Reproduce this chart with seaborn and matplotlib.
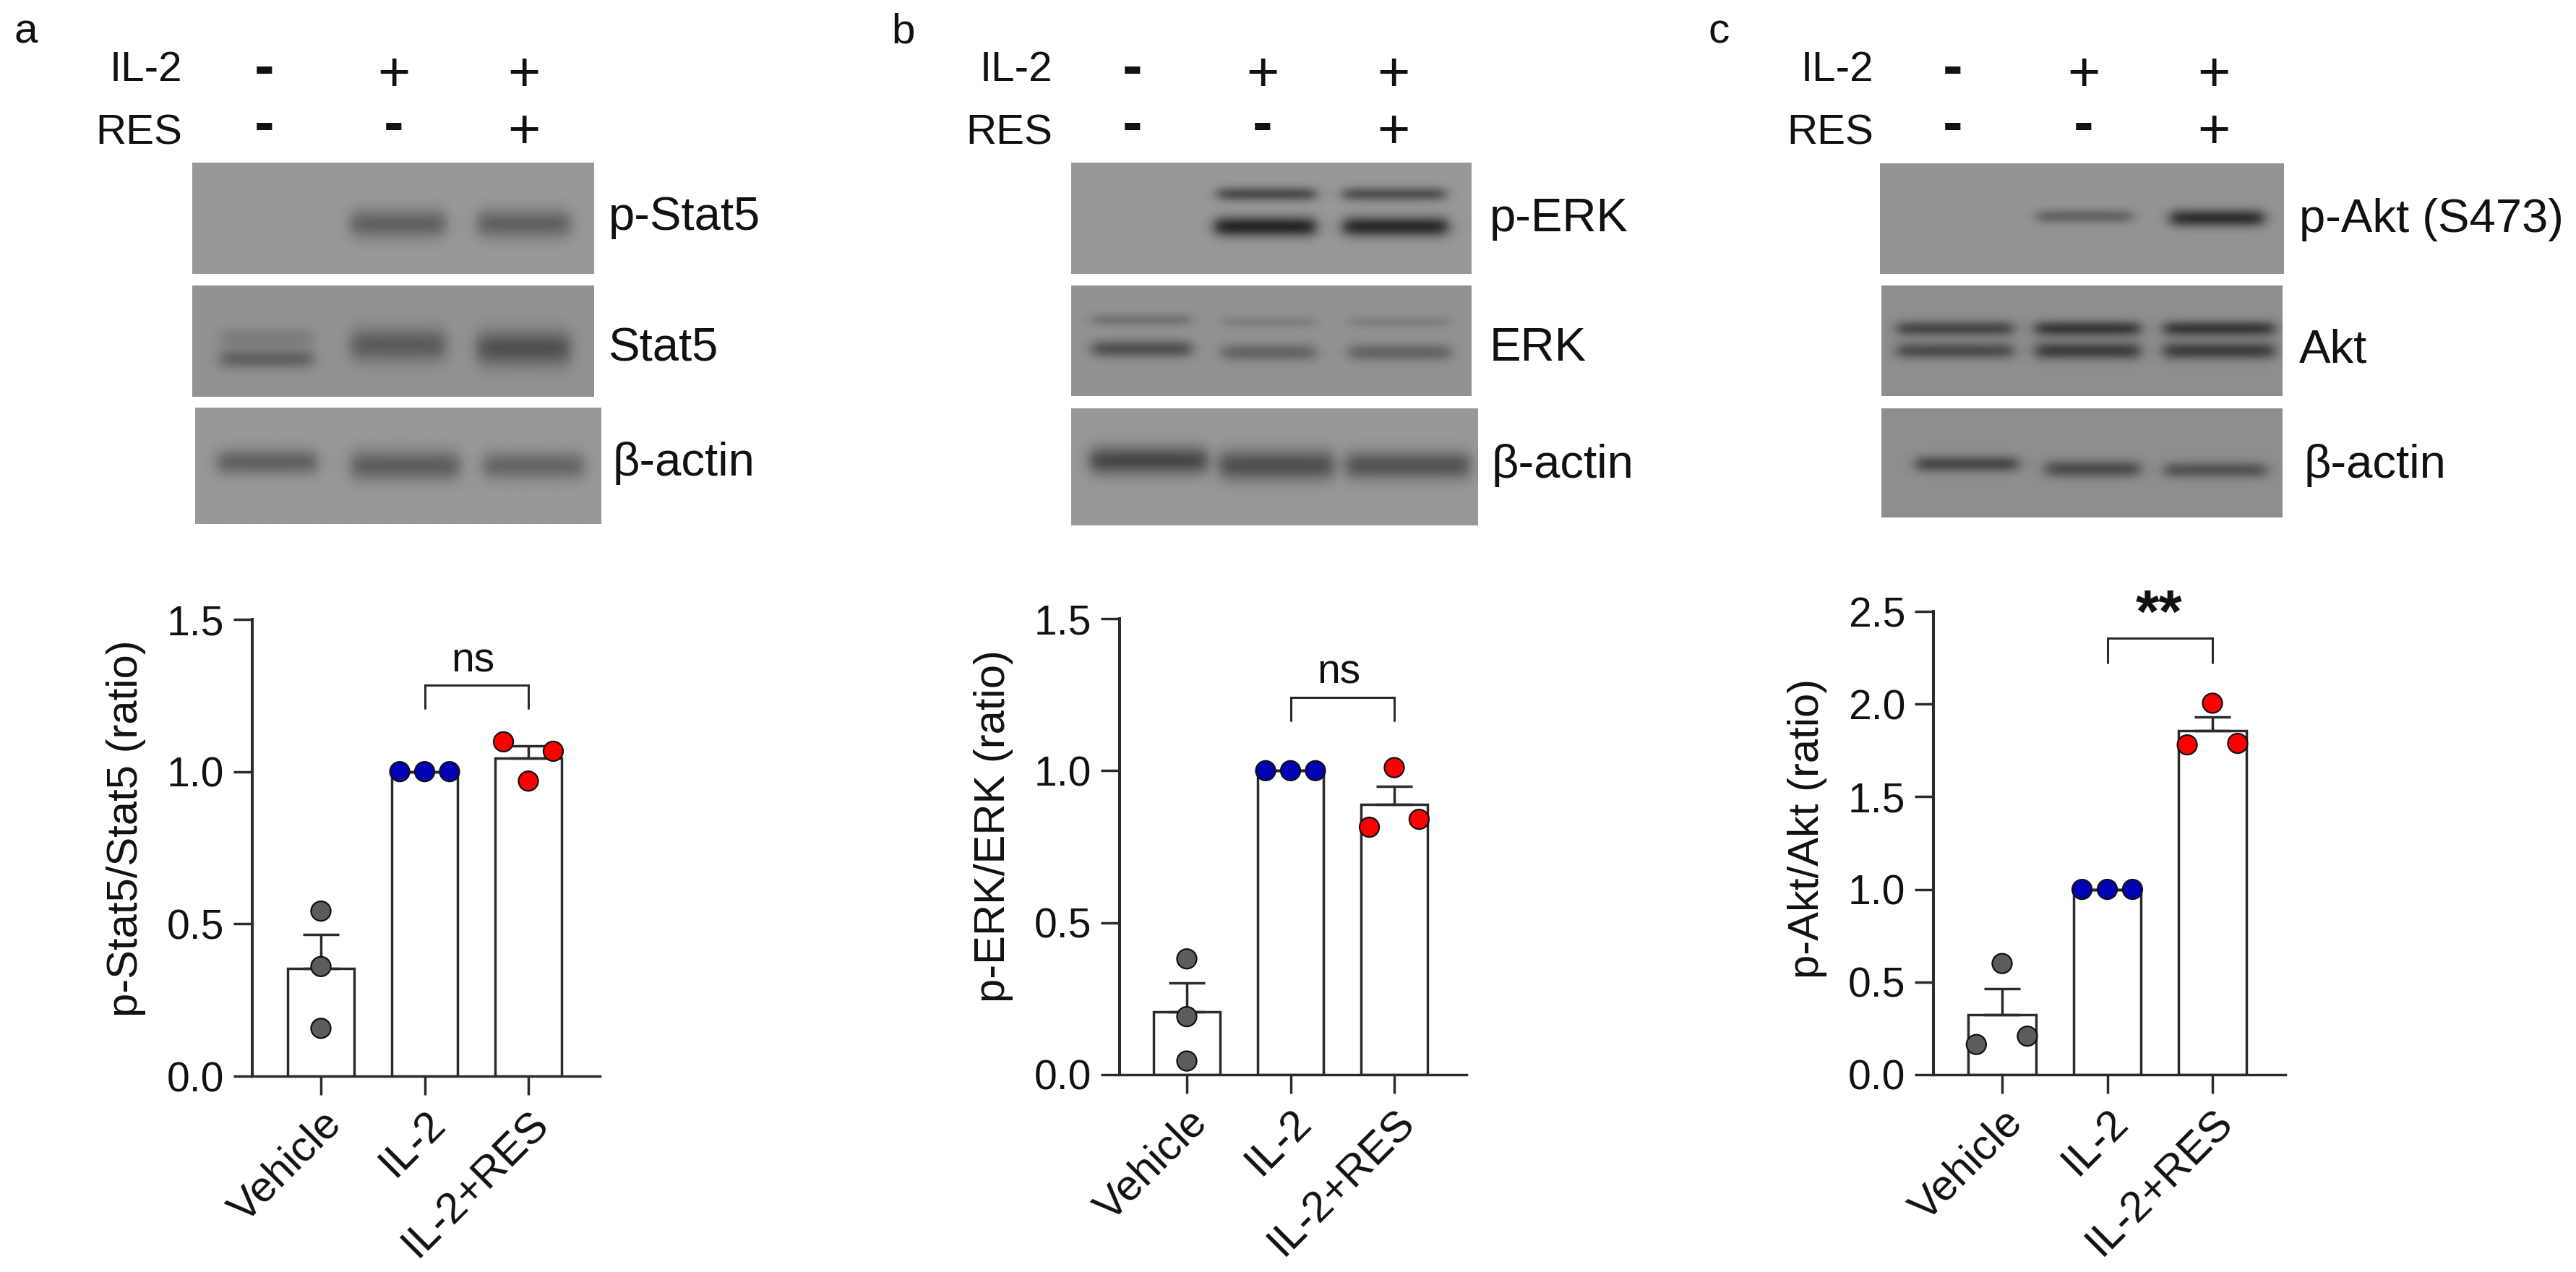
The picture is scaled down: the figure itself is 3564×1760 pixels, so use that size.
import numpy as np
import pandas as pd
import matplotlib
matplotlib.use("Agg")
import matplotlib.pyplot as plt
import seaborn as sns

W, H = 3564, 1760
groups = ["Vehicle", "IL-2", "IL-2+RES"]

stat5_vehicle = [0.542, 0.360, 0.157]
stat5_il2 = [1.0, 1.0, 1.0]
stat5_res = [1.098, 0.969, 1.067]

erk_vehicle = [0.381, 0.191, 0.045]
erk_il2 = [1.0, 1.0, 1.0]
erk_res = [0.814, 1.010, 0.840]

akt_vehicle = [0.163, 0.600, 0.208]
akt_il2 = [1.0, 1.0, 1.0]
akt_res = [1.780, 2.005, 1.788]

spread = {"a": [[0, 0, 0], [-.24, 0, .24], [-.24, 0, .24]],
          "b": [[0, 0, 0], [-.24, 0, .24], [-.24, 0, .24]],
          "c": [[-.245, 0, .24], [-.24, 0, .24], [-.24, 0, .24]]}

ylabels = ["p-Stat5/Stat5 (ratio)", "p-ERK/ERK (ratio)", "p-Akt/Akt (ratio)"]
yticks_ab = [0.0, 0.5, 1.0, 1.5]
yticks_c = [0.0, 0.5, 1.0, 1.5, 2.0, 2.5]
sig_labels = ["ns", "ns", "**"]

sns.set_theme(style="white")
plt.rcParams["font.family"] = ["Liberation Sans", "DejaVu Sans"]
INK = "#2b2b2b"
TXT = "#111111"
PT = 72 / 100

fig = plt.figure(figsize=(W / 100, H / 100), dpi=100, facecolor="white")


def fx(x):
    return x / W


def fy(y):
    return 1 - y / H


def box(x0, y0, x1, y1):
    return [fx(x0), fy(y1), (x1 - x0) / W, (y1 - y0) / H]


def blot(rect, bg, bands):
    x0, y0, x1, y1 = rect
    ax = fig.add_axes(box(x0, y0, x1, y1))
    nx, ny = int(x1 - x0), int(y1 - y0)
    xx, yy = np.meshgrid((np.arange(nx) + .5) / nx, (np.arange(ny) + .5) / ny)
    img = np.full(xx.shape, float(bg))
    for (l, r, cy, hw, amp) in bands:
        edge = 0.02
        px_ = 0.5 * (np.tanh((xx - l) / edge) - np.tanh((xx - r) / edge))
        img -= amp * px_ * np.exp(-((yy - cy) / hw) ** 2)
    ax.imshow(img, cmap="gray", vmin=0, vmax=255, aspect="auto", interpolation="bilinear")
    ax.set_axis_off()


panels = [
    dict(letter="a", lx=19, lab_r=252, signs=[366, 545, 725],
         blots=[((266, 225, 822, 379), 152, [(.395, .63, .55, .13, 55), (.71, .94, .55, .13, 55)]),
                ((266, 395, 822, 549), 146, [(.07, .30, .47, .09, 22), (.07, .30, .66, .09, 48),
                                             (.395, .63, .535, .15, 55), (.71, .94, .565, .16, 65)]),
                ((270, 564, 831, 725), 152, [(.055, .30, .47, .11, 55), (.385, .65, .50, .13, 58),
                                             (.71, .957, .50, .12, 50)])],
         labels=[("p-Stat5", 842, 318), ("Stat5", 842, 499), ("β-actin", 847, 658)],
         ax=(349, 857, 830, 1489), c0=444, dc=143.5, ylab=(174, 1146), lims=(0, 1.5), yt=yticks_ab,
         br=(1.284, 1.207), sig_xy=(654, 929)),
    dict(letter="b", lx=1233, lab_r=1456, signs=[1567, 1747, 1928],
         blots=[((1482, 225, 2036, 379), 152, [(.367, .61, .283, .065, 75), (.68, .934, .283, .065, 70),
                                               (.36, .61, .575, .09, 115), (.68, .94, .575, .09, 110)]),
                ((1482, 395, 2036, 548), 146, [(.054, .30, .31, .06, 30), (.054, .30, .573, .08, 65),
                                               (.377, .61, .33, .06, 18), (.377, .61, .605, .08, 45),
                                               (.694, .947, .33, .06, 18), (.694, .947, .605, .08, 45)]),
                ((1482, 565, 2045, 727), 152, [(.047, .334, .45, .12, 80), (.365, .645, .49, .13, 72),
                                               (.676, .98, .49, .12, 68)])],
         labels=[("p-ERK", 2061, 320), ("ERK", 2061, 499), ("β-actin", 2064, 661)],
         ax=(1549, 856, 2029, 1487), c0=1642, dc=143.5, ylab=(1374, 1143), lims=(0, 1.5), yt=yticks_ab,
         br=(1.24, 1.164), sig_xy=(1852, 945)),
    dict(letter="c", lx=2364, lab_r=2592, signs=[2702, 2883, 3063],
         blots=[((2601, 226, 3160, 379), 148, [(.389, .624, .48, .065, 48), (.72, .95, .495, .08, 100)]),
                ((2603, 395, 3158, 548), 142, [(.04, .328, .39, .07, 70), (.04, .328, .59, .075, 65),
                                               (.385, .644, .39, .07, 85), (.385, .644, .59, .08, 80),
                                               (.705, .979, .39, .07, 85), (.705, .979, .59, .08, 80)]),
                ((2603, 565, 3158, 716), 142, [(.088, .34, .51, .075, 70), (.41, .644, .555, .08, 65),
                                               (.707, .96, .565, .075, 58)])],
         labels=[("p-Akt (S473)", 3181, 321), ("Akt", 3181, 501), ("β-actin", 3187, 661)],
         ax=(2675, 846, 3162, 1487), c0=2770, dc=145.5, ylab=(2501, 1146), lims=(0, 2.5), yt=yticks_c,
         br=(2.354, 2.225), sig_xy=(2987, 875)),
]

datasets = [[stat5_vehicle, stat5_il2, stat5_res],
            [erk_vehicle, erk_il2, erk_res],
            [akt_vehicle, akt_il2, akt_res]]
point_colors = ["#5c5c5c", "#0000b4", "#ff0000"]

for p, data, ylab, sig in zip(panels, datasets, ylabels, sig_labels):
    fig.text(fx(p["lx"]), fy(60), p["letter"], fontsize=42, color=TXT, ha="left", va="baseline")

    for txt, base in (("IL-2", 112), ("RES", 200)):
        fig.text(fx(p["lab_r"]), fy(base), txt, fontsize=42, color=TXT, ha="right", va="baseline")
    top = ["-", "+", "+"]
    bot = ["-", "-", "+"]
    for x, t, b in zip(p["signs"], top, bot):
        for s, cy_minus, cy_plus in ((t, 97, 100), (b, 175, 179)):
            if s == "-":
                fig.text(fx(x), fy(cy_minus + 0.262 * 60 / PT), s, fontsize=60, fontweight="bold",
                         color=TXT, ha="center", va="baseline")
            else:
                fig.text(fx(x), fy(cy_plus + 0.335 * 56 / PT), s, fontsize=56,
                         color=TXT, ha="center", va="baseline")

    for rect, bg, bands in p["blots"]:
        blot(rect, bg, bands)
    for txt, x, base in p["labels"]:
        fig.text(fx(x), fy(base), txt, fontsize=47, color=TXT, ha="left", va="baseline")

    x0, y0, x1, y1 = p["ax"]
    ax = fig.add_axes(box(x0, y0, x1, y1))
    df = pd.DataFrame({"group": np.repeat(groups, 3), "value": np.concatenate(data)})
    sns.barplot(data=df, x="group", y="value", order=groups, estimator="mean", errorbar=None,
                width=0.64, color="white", saturation=1, edgecolor=INK, linewidth=2.5, ax=ax, zorder=2)
    means = df.groupby("group", sort=False)["value"].mean().to_numpy()
    sems = df.groupby("group", sort=False)["value"].sem().to_numpy()
    ax.errorbar(np.arange(3), means, yerr=[np.zeros(3), sems], fmt="none", ecolor=INK,
                elinewidth=2.5, capsize=18, capthick=2.5, zorder=3)
    off = np.array(spread[p["letter"]])
    pts = pd.DataFrame({"x": np.repeat(np.arange(3), 3) + off.ravel(),
                        "value": np.concatenate(data),
                        "group": np.repeat(groups, 3)})
    sns.scatterplot(data=pts, x="x", y="value", hue="group", hue_order=groups,
                    palette=point_colors, s=380, edgecolor=TXT, linewidth=1.6,
                    legend=False, ax=ax, zorder=4, clip_on=False)

    ax.set_xlim((x0 - p["c0"]) / p["dc"], (x1 - p["c0"]) / p["dc"])
    ax.set_ylim(*p["lims"])
    ax.set_xticks(np.arange(3))
    ax.set_xticklabels(groups, rotation=45, ha="right", rotation_mode="anchor", fontsize=43, color=TXT)
    ax.set_yticks(p["yt"])
    ax.set_yticklabels([f"{v:.1f}" for v in p["yt"]], fontsize=41, color=TXT)
    ax.set_xlabel("")
    ax.set_ylabel(ylab, fontsize=43, color=TXT, va="center")
    ax.yaxis.set_label_coords(fx(p["ylab"][0]), fy(p["ylab"][1]), transform=fig.transFigure)
    ax.tick_params(axis="x", length=19, width=2.5, color=INK, pad=8, bottom=True)
    ax.tick_params(axis="y", length=19, width=2.5, color=INK, pad=9, left=True)
    ax.set_facecolor("none")
    sns.despine(ax=ax)
    ax.spines["left"].set_linewidth(2.9)
    ax.spines["bottom"].set_linewidth(2.5)
    ax.spines["left"].set_color(INK)
    ax.spines["bottom"].set_color(INK)

    hi, lo = p["br"]
    ax.plot([1, 1, 2, 2], [lo, hi, hi, lo], color=INK, lw=2.2, clip_on=False, zorder=3,
            solid_joinstyle="miter")
    if sig == "**":
        fig.text(fx(p["sig_xy"][0]), fy(p["sig_xy"][1]), sig, fontsize=60, color=TXT,
                 ha="center", va="baseline", fontweight="bold")
    else:
        fig.text(fx(p["sig_xy"][0]), fy(p["sig_xy"][1]), sig, fontsize=41, color=TXT,
                 ha="center", va="baseline")

fig.savefig("out.png", dpi=100, facecolor="white")
